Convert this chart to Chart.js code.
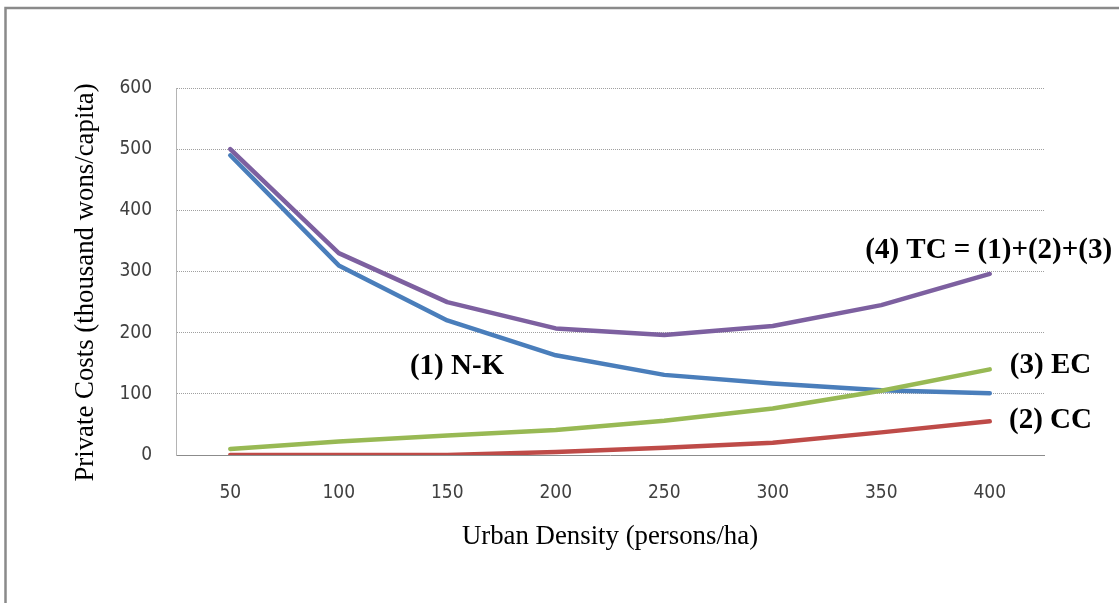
<!DOCTYPE html>
<html>
<head>
<meta charset="utf-8">
<title>Private Costs vs Urban Density</title>
<script src="https://cdn.jsdelivr.net/npm/chart.js@4/dist/chart.umd.min.js"></script>
<style>
  html, body { margin: 0; padding: 0; background: #ffffff; }
  canvas { display: block; }
</style>
</head>
<body>
<canvas id="costChart" width="1119" height="603"></canvas>
<script>
// Urban density categories (persons/ha)
const densities = ['50', '100', '150', '200', '250', '300', '350', '400'];

// Private costs per capita (thousand wons)
const nkCosts = [490, 310, 220, 163, 131, 117, 106, 101];   // (1) N-K
const ccCosts = [0, 0, 0, 5, 12, 20, 37, 55];               // (2) CC
const ecCosts = [10, 22, 32, 41, 56, 76, 105, 140];         // (3) EC
const tcCosts = [500, 330, 250, 207, 196, 211, 245, 296];   // (4) TC

const yTicks = [0, 100, 200, 300, 400, 500, 600];

const yTitle = 'Private Costs (thousand wons/capita)';
const xTitle = 'Urban Density (persons/ha)';

// Curve labels, anchored in data coordinates (category index, value)
const curveLabels = [
  { text: '(1) N-K',              at: 2.09, value: 144 },
  { text: '(4) TC = (1)+(2)+(3)', at: 6.99, value: 335 },
  { text: '(3) EC',               at: 7.56, value: 147 },
  { text: '(2) CC',               at: 7.56, value: 57 }
];

const tickFont = { family: '"DejaVu Sans Condensed", "DejaVu Sans", sans-serif', size: 19 };
const titleFont = { family: '"Liberation Serif", "Times New Roman", serif', size: 26.8 };

const framePlugin = {
  id: 'frame',
  beforeDraw(chart) {
    const ctx = chart.ctx;
    ctx.save();
    ctx.fillStyle = '#ffffff';
    ctx.fillRect(0, 0, chart.width, chart.height);
    ctx.strokeStyle = '#8a8a8a';
    ctx.lineWidth = 2.5;
    ctx.beginPath();
    ctx.moveTo(5.5, chart.height);
    ctx.lineTo(5.5, 8);
    ctx.lineTo(chart.width, 8);
    ctx.stroke();
    ctx.restore();
  }
};

// Vertical axis title, set slightly below the plot's middle
const yTitlePlugin = {
  id: 'yTitle',
  afterDraw(chart) {
    const ctx = chart.ctx;
    const area = chart.chartArea;
    ctx.save();
    ctx.translate(86, (area.top + area.bottom) / 2 + 11);
    ctx.rotate(-Math.PI / 2);
    ctx.font = `${titleFont.size}px ${titleFont.family}`;
    ctx.fillStyle = '#000000';
    ctx.textAlign = 'center';
    ctx.textBaseline = 'middle';
    ctx.fillText(yTitle, 0, 0);
    ctx.restore();
  }
};

const curveLabelPlugin = {
  id: 'curveLabels',
  afterDatasetsDraw(chart) {
    const ctx = chart.ctx;
    const xs = chart.scales.x, ys = chart.scales.y;
    ctx.save();
    ctx.font = 'bold 29px "Liberation Serif", "Times New Roman", serif';
    ctx.fillStyle = '#000000';
    ctx.textAlign = 'center';
    ctx.textBaseline = 'middle';
    curveLabels.forEach(l => {
      ctx.fillText(l.text, xs.getPixelForValue(l.at), ys.getPixelForValue(l.value));
    });
    ctx.restore();
  }
};

function line(label, data, color, order) {
  return {
    label, data,
    borderColor: color,
    backgroundColor: color,
    borderWidth: 4.5,
    borderCapStyle: 'round',
    borderJoinStyle: 'round',
    pointRadius: 0,
    pointHoverRadius: 0,
    tension: 0,
    fill: false,
    order
  };
}

new Chart(document.getElementById('costChart'), {
  type: 'line',
  data: {
    labels: densities,
    datasets: [
      line('(1) N-K', nkCosts, '#4a7ebb', 3),
      line('(2) CC', ccCosts, '#be4b48', 2),
      line('(3) EC', ecCosts, '#98b954', 1),
      line('(4) TC', tcCosts, '#7d60a0', 0)
    ]
  },
  options: {
    responsive: false,
    devicePixelRatio: 1,
    animation: false,
    layout: { padding: { left: 0, top: 88, right: 75, bottom: 0 } },
    plugins: {
      legend: { display: false },
      tooltip: { enabled: false }
    },
    scales: {
      x: {
        type: 'category',
        offset: true,
        afterFit(scale) { scale.height = 148; },
        grid: { display: false, drawTicks: false },
        border: { display: true, color: '#8c8c8c', width: 1 },
        ticks: { padding: 27, color: '#404040', font: tickFont },
        title: {
          display: true,
          text: xTitle,
          color: '#000000',
          font: titleFont,
          padding: { top: 0, bottom: 50 }
        }
      },
      y: {
        min: 0,
        max: 600,
        afterFit(scale) { scale.width = 176; },
        afterBuildTicks(scale) { scale.ticks = yTicks.map(v => ({ value: v })); },
        grid: { color: '#a0a0a0', lineWidth: 1, drawTicks: false },
        border: { display: true, color: '#b4b4b4', width: 1, dash: [1, 1] },
        ticks: { padding: 24, color: '#404040', font: tickFont },
        title: { display: false }
      }
    }
  },
  plugins: [framePlugin, curveLabelPlugin, yTitlePlugin]
});
</script>
</body>
</html>
